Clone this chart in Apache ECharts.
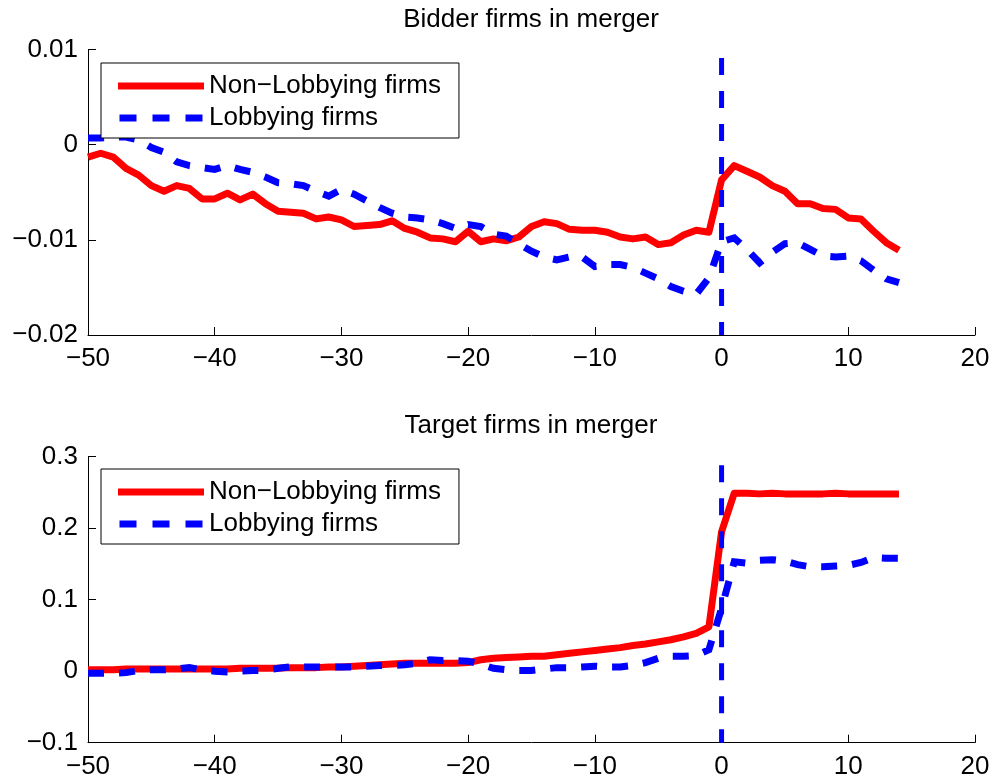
<!DOCTYPE html>
<html><head><meta charset="utf-8">
<script src="https://cdn.jsdelivr.net/npm/echarts@6/dist/echarts.min.js"></script>
<style>html,body{margin:0;padding:0;background:#fff}#c{width:995px;height:784px}</style>
</head><body><div id="c"></div>
<script>
// Event-time days (x)
const days = [-50,-49,-48,-47,-46,-45,-44,-43,-42,-41,-40,-39,-38,-37,-36,-35,-34,-33,-32,-31,
  -30,-29,-28,-27,-26,-25,-24,-23,-22,-21,-20,-19,-18,-17,-16,-15,-14,-13,-12,-11,
  -10,-9,-8,-7,-6,-5,-4,-3,-2,-1,0,1,2,3,4,5,6,7,8,9,10,11,12,13,14];

// Bidder firms in merger
const bidderNonLobbying = [-0.0013,-0.0009,-0.0013,-0.0025,-0.0032,-0.0043,-0.0049,-0.0043,-0.0046,-0.0057,
  -0.0057,-0.0051,-0.0058,-0.0052,-0.0062,-0.0070,-0.0071,-0.0072,-0.0078,-0.0076,
  -0.0079,-0.0086,-0.0085,-0.0084,-0.0080,-0.0088,-0.0092,-0.0098,-0.0099,-0.0102,
  -0.0091,-0.0102,-0.0099,-0.0101,-0.0097,-0.0086,-0.0081,-0.0083,-0.0089,-0.0090,
  -0.0090,-0.0092,-0.0097,-0.0099,-0.0097,-0.0105,-0.0103,-0.0095,-0.0090,-0.0092,
  -0.0037,-0.0022,-0.0028,-0.0034,-0.0043,-0.0049,-0.0062,-0.0062,-0.0067,-0.0068,
  -0.0077,-0.0078,-0.0091,-0.0103,-0.0111];
const bidderLobbying = [0.0007,0.0007,0.0008,0.0008,0.0005,-0.0003,-0.0008,-0.0018,-0.0022,-0.0024,
  -0.0026,-0.0022,-0.0026,-0.0029,-0.0034,-0.0040,-0.0041,-0.0043,-0.0049,-0.0054,
  -0.0047,-0.0052,-0.0059,-0.0066,-0.0072,-0.0076,-0.0077,-0.0079,-0.0083,-0.0088,
  -0.0084,-0.0086,-0.0094,-0.0096,-0.0104,-0.0112,-0.0118,-0.0121,-0.0118,-0.0118,
  -0.0128,-0.0126,-0.0126,-0.0129,-0.0135,-0.0141,-0.0149,-0.0154,-0.0157,-0.0140,
  -0.0102,-0.0098,-0.0110,-0.0124,-0.0113,-0.0104,-0.0103,-0.0110,-0.0117,-0.0118,
  -0.0117,-0.0122,-0.0132,-0.0141,-0.0145];

// Target firms in merger
const targetNonLobbying = [0.002,0.002,0.002,0.003,0.003,0.003,0.003,0.003,0.003,0.003,
  0.003,0.003,0.004,0.004,0.004,0.004,0.005,0.005,0.005,0.006,
  0.006,0.007,0.008,0.009,0.010,0.011,0.011,0.011,0.011,0.011,
  0.012,0.016,0.018,0.019,0.020,0.021,0.021,0.023,0.025,0.027,
  0.029,0.031,0.033,0.036,0.038,0.041,0.044,0.048,0.053,0.062,
  0.195,0.249,0.249,0.248,0.249,0.248,0.248,0.248,0.248,0.249,
  0.248,0.248,0.248,0.248,0.248];
const targetLobbying = [-0.003,-0.003,-0.003,-0.002,0.001,0.002,0.002,0.003,0.005,0.002,
  0.000,-0.001,0.000,0.001,0.001,0.004,0.006,0.006,0.006,0.006,
  0.006,0.006,0.007,0.008,0.008,0.009,0.011,0.016,0.015,0.015,
  0.014,0.010,0.004,0.002,0.001,0.001,0.003,0.005,0.005,0.006,
  0.007,0.006,0.006,0.008,0.012,0.018,0.021,0.021,0.022,0.030,
  0.088,0.153,0.151,0.155,0.156,0.154,0.149,0.146,0.146,0.147,
  0.148,0.152,0.159,0.158,0.158];

// Axis ticks
const xTicks = [-50,-40,-30,-20,-10,0,10,20];
const bidderYTicks = [-0.02,-0.01,0,0.01];
const targetYTicks = [-0.1,0,0.1,0.2,0.3];
const eventDay = 0;
const seriesNames = ['Non\u2212Lobbying firms','Lobbying firms'];
const titles = ['Bidder firms in merger','Target firms in merger'];

const FONT = "'Liberation Sans', Arial, Helvetica, sans-serif";
const FS = 26;
const fmt = v => String(+(+v).toFixed(4)).replace('-', '\u2212');

function xAxisFor(gi){
  return {gridIndex:gi, type:'value', min:xTicks[0], max:xTicks[xTicks.length-1], interval:xTicks[1]-xTicks[0],
    axisLine:{show:true, onZero:false, lineStyle:{color:'#000', width:1}},
    axisTick:{show:true, inside:true, length:8, lineStyle:{color:'#000', width:1}},
    axisLabel:{color:'#000', fontSize:FS, fontFamily:FONT, margin:11, formatter:fmt},
    splitLine:{show:false}};
}
function yAxisFor(gi, ticks){
  return {gridIndex:gi, type:'value', min:ticks[0], max:ticks[ticks.length-1], interval:+(ticks[1]-ticks[0]).toFixed(4),
    axisLine:{show:true, onZero:false, lineStyle:{color:'#000', width:1}},
    axisTick:{show:true, inside:true, length:8, lineStyle:{color:'#000', width:1}},
    axisLabel:{color:'#000', fontSize:FS, fontFamily:FONT, margin:10, formatter:fmt},
    splitLine:{show:false}};
}
function pairs(vals){ return days.map((d,i)=>[d, vals[i]]); }
function panelSeries(gi, nonL, lob, yticks){
  return [
    {name:seriesNames[0], type:'line', xAxisIndex:gi, yAxisIndex:gi, data:pairs(nonL), symbol:'none',
     color:'#ff0000', lineStyle:{color:'#ff0000', width:7, cap:'butt', join:'round'}, z:2, animation:false},
    {name:seriesNames[1], type:'line', xAxisIndex:gi, yAxisIndex:gi, data:pairs(lob), symbol:'none',
     color:'#0000ff', lineStyle:{color:'#0000ff', width:7, type:[16,15], cap:'butt', join:'miter'}, z:3, animation:false},
    {name:'event', type:'line', xAxisIndex:gi, yAxisIndex:gi, silent:true, symbol:'none',
     data:[[eventDay, yticks[yticks.length-1]],[eventDay, yticks[0]]],
     lineStyle:{color:'#0000ff', width:5, type:[17,16], dashOffset:24.5, cap:'butt'}, z:4, animation:false}
  ];
}
const solidIcon = 'path://M0,0H86V7H0Z';
const dashIcon = 'path://M0,0H17V7H0Z M33,0H50V7H33Z M66,0H83V7H66Z';
function legendFor(top){
  return {left:101, top:top, orient:'vertical', selectedMode:false,
    data:[{name:seriesNames[0], icon:solidIcon}, {name:seriesNames[1], icon:dashIcon}],
    itemWidth:86, itemHeight:7, itemGap:4, padding:[9,18,6,17],
    borderColor:'#000', borderWidth:1, borderRadius:0, backgroundColor:'#fff', z:10,
    textStyle:{fontSize:FS, color:'#000', fontFamily:FONT, lineHeight:28}};
}

const chart = echarts.init(document.getElementById('c'), null, {renderer:'canvas'});
chart.setOption({
  backgroundColor:'#fff',
  animation:false,
  title:[
    {text:titles[0], left:531, top:7, textAlign:'center', padding:0,
     textStyle:{fontSize:FS, fontWeight:'normal', color:'#000', fontFamily:FONT}},
    {text:titles[1], left:531, top:413, textAlign:'center', padding:0,
     textStyle:{fontSize:FS, fontWeight:'normal', color:'#000', fontFamily:FONT}}
  ],
  legend:[legendFor(63), legendFor(469)],
  grid:[
    {left:88, right:20, top:49.5, height:285.5},
    {left:88, right:20, top:456.7, height:286}
  ],
  xAxis:[xAxisFor(0), xAxisFor(1)],
  yAxis:[yAxisFor(0, bidderYTicks), yAxisFor(1, targetYTicks)],
  series:[...panelSeries(0, bidderNonLobbying, bidderLobbying, bidderYTicks),
          ...panelSeries(1, targetNonLobbying, targetLobbying, targetYTicks)]
});
</script></body></html>
